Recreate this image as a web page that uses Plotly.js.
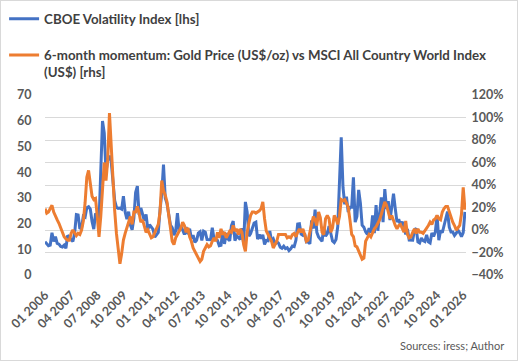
<!DOCTYPE html>
<html>
<head>
<meta charset="utf-8">
<script src="https://cdn.plot.ly/plotly-3.0.1.min.js"></script>
<style>
html,body{margin:0;padding:0;background:#fff;}
#wrap{width:518px;height:361px;box-sizing:border-box;border:1px solid #d9d9d9;}
#chart{width:516px;height:359px;}
</style>
</head>
<body>
<div id="wrap"><div id="chart"></div></div>
<script>
// Monthly data, starting January 2006
const startYear = 2006;
const startMonth = 1;

// CBOE Volatility Index (left axis)
const vix2006 = [12.95, 12.34, 11.39, 11.59, 16.44, 13.08, 14.95, 12.31, 11.98, 11.10, 10.91, 11.56];
const vix2007 = [10.42, 15.42, 14.64, 14.22, 13.05, 16.23, 23.52, 23.38, 18.00, 18.53, 22.87, 22.50];
const vix2008 = [26.20, 26.54, 25.61, 20.79, 17.83, 23.95, 22.94, 20.65, 39.39, 59.89, 55.28, 40.00];
const vix2009 = [44.84, 46.35, 44.14, 36.50, 28.92, 26.35, 25.92, 26.01, 25.61, 30.69, 24.51, 21.68];
const vix2010 = [24.62, 19.50, 17.59, 22.05, 32.07, 34.54, 23.50, 26.05, 23.70, 21.20, 23.54, 17.75];
const vix2011 = [19.53, 18.35, 17.74, 14.75, 15.45, 16.52, 25.25, 31.62, 42.96, 29.96, 27.80, 23.40];
const vix2012 = [19.44, 18.43, 15.50, 17.15, 24.06, 17.08, 18.93, 17.47, 15.73, 18.60, 15.87, 18.02];
const vix2013 = [14.28, 15.51, 12.70, 13.52, 16.30, 16.86, 13.45, 17.01, 16.60, 13.75, 13.70, 13.72];
const vix2014 = [18.41, 14.00, 13.88, 13.41, 11.40, 11.57, 16.95, 12.09, 16.31, 14.03, 13.33, 19.20];
const vix2015 = [20.97, 13.34, 15.29, 14.55, 13.84, 18.23, 12.12, 28.43, 24.50, 15.07, 16.13, 18.21];
const vix2016 = [20.20, 20.55, 13.95, 15.70, 14.19, 15.63, 11.87, 13.42, 13.29, 17.06, 13.33, 14.04];
const vix2017 = [11.99, 12.92, 12.37, 10.82, 10.41, 11.18, 10.26, 10.59, 9.51, 10.18, 11.28, 11.04];
const vix2018 = [13.54, 19.85, 19.97, 15.93, 15.43, 16.09, 12.83, 12.86, 12.12, 21.23, 18.07, 25.42];
const vix2019 = [16.57, 14.78, 13.71, 13.12, 18.71, 15.08, 16.12, 18.98, 16.24, 13.22, 12.62, 13.78];
const vix2020 = [18.84, 40.11, 53.54, 34.15, 27.51, 30.43, 24.46, 26.41, 26.37, 38.02, 20.57, 22.75];
const vix2021 = [33.09, 27.95, 19.40, 18.61, 16.76, 15.83, 18.24, 16.48, 23.14, 16.26, 27.19, 17.22];
const vix2022 = [24.83, 30.15, 20.56, 33.40, 25.69, 28.71, 21.33, 25.87, 31.62, 25.88, 20.58, 21.67];
const vix2023 = [19.40, 20.70, 18.70, 15.78, 17.94, 13.59, 13.63, 13.57, 17.52, 18.14, 12.92, 12.45];
const vix2024 = [14.35, 13.40, 13.01, 15.65, 12.92, 12.44, 16.36, 15.00, 16.73, 23.16, 13.51, 17.35];
const vix2025 = [16.43, 19.63, 22.28, 24.70, 18.57, 16.73, 16.72, 15.36, 16.28, 17.44, 16.35, 14.95];
const vix2026 = [16.5, 24.5];

// 6-month momentum, gold vs MSCI ACWI, % (right axis)
const mom2006 = [19, 15, 16, 19, 22, 16, 12, 9, 6, 2, -3, -6];
const mom2007 = [-8, -9, -9, -3, 0, -2, -5, -3, -4, 0, 8, 24];
const mom2008 = [47, 53, 42, 30, 27, 28, 12, -6, 12, 33, 60, 44];
const mom2009 = [62, 104, 72, 40, 17, -3, -20, -30, -21, -9, -3, 2];
const mom2010 = [6, 12, 5, 16, 16, 21, 15, 7, 9, 4, -2, 0];
const mom2011 = [-4, -7, -6, -2, 1, 5, 16, 44, 35, 31, 25, 14];
const mom2012 = [5, -10, -13, -7, -4, -1, 2, 7, 4, -2, 2, -6];
const mom2013 = [-10, -16, -19, -22, -26, -28, -26, -19, -16, -13, -15, -14];
const mom2014 = [-10, -7, -10, -2, -7, 1, -4, -2, -7, -4, -1, -2];
const mom2015 = [4, -1, 1, -4, 1, -2, -13, -19, -2, 6, 13, 16];
const mom2016 = [16, 15, 16, 17, 19, 25, 10, -1, -4, -7, -10, -16];
const mom2017 = [-13, -10, -4, -4, -4, -4, -4, -7, -6, -7, -4, -3];
const mom2018 = [-6, -2, 1, -2, 1, -4, -10, -9, -2, 7, 12, 9];
const mom2019 = [4, 16, 11, -2, -4, 10, 13, 10, -2, 2, 13, 10];
const mom2020 = [5, 12, 27, 26, 27, 24, 20, 9, -4, -6, -14, -15];
const mom2021 = [-19, -22, -26, -25, -10, -7, -4, -6, -2, 1, 3, 6];
const mom2022 = [9, 14, 19, 25, 22, 16, 10, 13, 8, 4, 1, 4];
const mom2023 = [5, 2, -2, 8, -4, -7, -6, -2, 1, -3, 1, -2];
const mom2024 = [-2, -3, -1, 2, 4, 7, 5, 9, 10, 13, 10, 9];
const mom2025 = [16, 19, 21, 21, 16, 13, 7, 4, 0, 2, 4, 14];
const mom2026 = [38, 18];

const vix = [].concat(vix2006, vix2007, vix2008, vix2009, vix2010, vix2011, vix2012, vix2013,
  vix2014, vix2015, vix2016, vix2017, vix2018, vix2019, vix2020, vix2021, vix2022, vix2023,
  vix2024, vix2025, vix2026);
const momentumPct = [].concat(mom2006, mom2007, mom2008, mom2009, mom2010, mom2011, mom2012, mom2013,
  mom2014, mom2015, mom2016, mom2017, mom2018, mom2019, mom2020, mom2021, mom2022, mom2023,
  mom2024, mom2025, mom2026);
const momentum = momentumPct.map(v => v / 100);

// Month category labels "MM YYYY"
const months = [];
for (let i = 0; i < vix.length; i++) {
  const mi = startMonth - 1 + i;
  const mm = (mi % 12) + 1;
  const yy = startYear + Math.floor(mi / 12);
  months.push((mm < 10 ? '0' : '') + mm + ' ' + yy);
}
const tickEvery = 15;
const tickLabels = months.filter((_, i) => i % tickEvery === 0);

const legendName1 = 'CBOE Volatility Index [lhs]';
const legendName2 = '6-month momentum: Gold Price (US$/oz) vs MSCI All Country World Index<br>(US$) [rhs]';

const tickFont = {family: 'Lato, "Open Sans", sans-serif', size: 12.5, color: '#595959', weight: 'bold'};

const traces = [
  {x: months, y: vix, type: 'scatter', mode: 'lines', name: legendName1, yaxis: 'y',
   legendgroup: 'a', line: {color: '#4472C4', width: 3}},
  {x: months, y: momentum, type: 'scatter', mode: 'lines', name: legendName2, yaxis: 'y2',
   legendgroup: 'b', line: {color: '#ED7D31', width: 3}}
];

const layout = {
  width: 516, height: 359,
  margin: {l: 44, r: 51, t: 94, b: 85, autoexpand: false},
  paper_bgcolor: '#ffffff', plot_bgcolor: '#ffffff',
  font: {family: 'Lato, "Open Sans", sans-serif', color: '#404040'},
  showlegend: true,
  legend: {
    xref: 'container', yref: 'container', x: 0.006, y: 0.993, xanchor: 'left', yanchor: 'top',
    orientation: 'v', traceorder: 'grouped', tracegroupgap: 16, valign: 'top',
    font: {family: 'Lato, "Open Sans", sans-serif', size: 13.3, color: '#404040', weight: 'bold'},
    bgcolor: 'rgba(0,0,0,0)'
  },
  xaxis: {
    type: 'category', range: [0, 241.6], automargin: false,
    tickmode: 'array', tickvals: tickLabels, ticktext: tickLabels,
    tickangle: -45, tickfont: tickFont,
    showgrid: false, showline: false, zeroline: false,
    ticks: 'outside', ticklen: 7, tickcolor: 'rgba(0,0,0,0)'
  },
  yaxis: {
    range: [0, 70], dtick: 10, tick0: 0, automargin: false,
    showgrid: false, zeroline: false, showline: false,
    ticks: 'outside', ticklen: 10, tickcolor: 'rgba(0,0,0,0)',
    tickfont: tickFont
  },
  yaxis2: {
    overlaying: 'y', side: 'right', range: [-0.4, 1.2], dtick: 0.2, tick0: 0, automargin: false,
    tickformat: '.0%', showgrid: true, gridcolor: '#d9d9d9', gridwidth: 1,
    zeroline: false, showline: false,
    ticks: 'outside', ticklen: 2, tickcolor: 'rgba(0,0,0,0)',
    tickfont: tickFont
  },
  annotations: [{
    text: 'Sources: iress; Author', xref: 'paper', yref: 'paper',
    x: 1, xshift: 40, y: -0.39, xanchor: 'right', yanchor: 'middle', showarrow: false,
    font: {family: 'Lato, "Open Sans", sans-serif', size: 11, color: '#595959'}
  }]
};

Plotly.newPlot('chart', traces, layout, {displayModeBar: false, staticPlot: true});
</script>
</body>
</html>
